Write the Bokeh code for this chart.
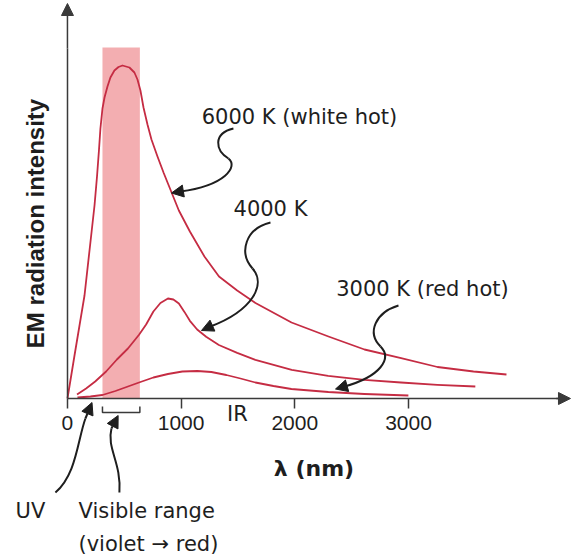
from bokeh.plotting import figure
from bokeh.models import Range1d, FixedTicker, Label, Arrow, NormalHead
from bokeh.embed import file_html
from bokeh.resources import INLINE

# ---- data (wavelength in nm, intensity in arbitrary units) ----
wl_6000 = [0, 26, 62, 106, 150, 194, 238, 260, 277, 290, 308, 326, 352, 378, 413, 449, 484,
           545, 589, 616, 642, 669, 704, 739, 792, 845, 884, 980, 1077, 1205, 1333, 1493, 1654,
           1971, 2296, 2613, 2935, 3255, 3572, 3862]
in_6000 = [0, 18, 43, 73, 103, 148, 193, 222, 248, 270, 290, 301, 312, 321, 328, 331.5, 333,
           331, 326, 319, 308, 291, 274, 259, 242, 226, 215, 188, 167, 142, 122, 108, 95.5,
           76, 62, 49, 40.4, 31.5, 27, 24]

wl_4000 = [84, 164, 244, 340, 435, 532, 628, 692, 756, 818, 884, 932, 980, 1029, 1077, 1141,
           1220, 1332, 1493, 1653, 1973, 2293, 2612, 2934, 3254, 3588]
in_4000 = [4, 10, 17, 27, 39, 50, 63.5, 74, 87, 95.5, 100, 99, 95, 86.6, 77.7, 69,
           61.7, 53.5, 45.7, 38.6, 28.6, 22.6, 18.6, 16, 13.7, 12]

wl_3000 = [88, 202, 308, 422, 532, 642, 756, 884, 1011, 1143, 1266, 1398, 1522, 1653, 1812,
           1970, 2295, 2612, 2999]
in_3000 = [1, 2, 3.5, 7.5, 12, 16.5, 21, 24.5, 27, 27.5, 26.5, 23.5, 20, 16, 12.5,
           9.5, 6.5, 4.5, 3]

visible_nm = [308, 637]      # visible band (violet -> red)
visible_top = [351]
x_ticks = [0, 1000, 2000, 3000]

# ---- styles ----
CURVE = "#c52c43"
BAND = "#f2aaad"
INK = "#1e1e1e"
AXIS = "#3a3a3a"
NOTE_FONT = "DejaVu Sans"

p = figure(width=571, height=558, output_backend="svg", toolbar_location=None, tools="",
           x_range=Range1d(-589, 4434), y_range=Range1d(-160, 398), min_border=0)
p.outline_line_color = None
p.xgrid.visible = False
p.ygrid.visible = False
p.background_fill_color = "white"
p.border_fill_color = "white"

# x axis through the origin
xa = p.xaxis[0]
xa.fixed_location = 0
xa.bounds = (0, 4340)
xa.ticker = FixedTicker(ticks=x_ticks)
xa.minor_tick_line_color = None
xa.major_tick_in = 0
xa.major_tick_out = 10
xa.major_tick_line_width = 1.5
xa.major_tick_line_color = AXIS
xa.axis_line_color = AXIS
xa.axis_line_width = 1.5
xa.major_label_text_font = "Liberation Sans"
xa.major_label_text_font_size = "21px"
xa.major_label_text_color = INK
xa.major_label_standoff = 7
xa.axis_label = "λ (nm)"
xa.axis_label_text_font = "DejaVu Sans"
xa.axis_label_text_font_style = "bold"
xa.axis_label_text_font_size = "22px"
xa.axis_label_text_color = INK
xa.axis_label_standoff = 23

# y axis through the origin
ya = p.yaxis[0]
ya.fixed_location = 0
ya.bounds = (0, 350)
ya.ticker = FixedTicker(ticks=[])
ya.minor_tick_line_color = None
ya.major_tick_out = 0
ya.major_tick_in = 0
ya.axis_line_color = AXIS
ya.axis_line_width = 1.5
ya.axis_label = "EM radiation intensity"
ya.axis_label_text_font = "Liberation Sans"
ya.axis_label_text_font_style = "bold"
ya.axis_label_text_font_size = "24px"
ya.axis_label_text_color = INK
ya.axis_label_standoff = 19

# axis arrow heads
p.add_layout(Arrow(end=NormalHead(size=12, fill_color=AXIS, line_color=AXIS),
                   x_start=4300, y_start=0, x_end=4425, y_end=0,
                   line_color=AXIS, line_width=1.5))
p.add_layout(Arrow(end=NormalHead(size=12, fill_color=AXIS, line_color=AXIS),
                   x_start=0, y_start=350, x_end=0, y_end=395,
                   line_color=AXIS, line_width=1.5))

# visible band
p.quad(left=[visible_nm[0]], right=[visible_nm[1]], bottom=[0], top=visible_top,
       fill_color=BAND, line_color=None, fill_alpha=0.95)

# curves
p.line(wl_6000, in_6000, line_color=CURVE, line_width=1.8, line_join="round")
p.line(wl_4000, in_4000, line_color=CURVE, line_width=1.8, line_join="round")
p.line(wl_3000, in_3000, line_color=CURVE, line_width=1.8, line_join="round")

# curved annotation arrows (data units)
bz = dict(
    x0=[1460, 1416, 1786, 1628, 2912, 2754, -106, 457],
    y0=[270, 240, 176, 130, 93, 52, -94, -94],
    cx0=[1276, 1504, 1566, 1751, 2710, 2859, 79, 475],
    cy0=[265, 232, 170, 114, 86, 40, -76, -64],
    cx1=[1302, 1390, 1504, 1628, 2631, 2754, 88, 343],
    cy1=[248, 213, 146, 88, 66, 22, -42, -50],
    x1=[1416, 994, 1628, 1258, 2754, 2437, 158, 387],
    y1=[240, 207, 130, 72, 52, 12, -20, -30],
)
p.bezier(line_color=INK, line_width=2, **bz)

heads = [((994, 207), (915, 205.5)),
         ((1258, 72), (1179, 68)),
         ((2437, 12), (2358, 9.5)),
         ((158, -20), (216, -4)),
         ((387, -30), (446, -17))]
for (xs, ys), (xe, ye) in heads:
    p.add_layout(Arrow(end=NormalHead(size=12, fill_color=INK, line_color=INK),
                       x_start=xs, y_start=ys, x_end=xe, y_end=ye,
                       line_color=INK, line_width=2))

# bracket under the visible band
p.line([visible_nm[0], visible_nm[0], visible_nm[1], visible_nm[1]], [-8, -14, -14, -8],
       line_color=AXIS, line_width=1.5)

# text notes
def note(x, y, text, align="center"):
    p.add_layout(Label(x=x, y=y, text=text, text_font=NOTE_FONT, text_font_size="21px",
                       text_color=INK, text_align=align, text_baseline="middle"))

note(2041, 282, "6000 K (white hot)")
note(1786, 190, "4000 K")
note(3123, 110, "3000 K (red hot)")
note(1496, -15, "IR")
note(-326, -112, "UV")
note(97, -112, "Visible range", align="left")
note(97, -145, "(violet \u2192 red)", align="left")

open("out.html", "w").write(file_html(p, INLINE))
